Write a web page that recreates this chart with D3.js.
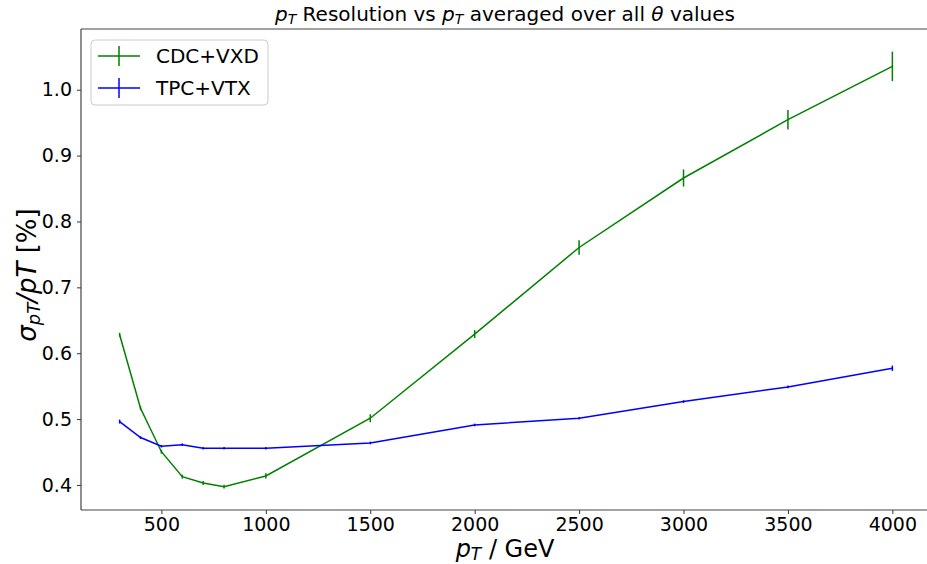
<!DOCTYPE html>
<html>
<head>
<meta charset="utf-8">
<script src="https://cdn.jsdelivr.net/npm/d3@7"></script>
<style>
  body { margin: 0; background: #fff; }
  text { font-family: "DejaVu Sans", sans-serif; fill: #000; }
</style>
</head>
<body>
<div id="chart"></div>
<script>
// values
var pt = [300, 400, 500, 600, 700, 800, 1000, 1500, 2000, 2500, 3000, 3500, 4000];
var cdcVxd    = [0.628, 0.5165, 0.4505, 0.4126, 0.403, 0.3975, 0.4137, 0.5013, 0.629, 0.7605, 0.866, 0.9545, 1.0355];
var cdcVxdErr = [0.003, 0.003, 0.003, 0.003, 0.003, 0.003, 0.004, 0.006, 0.006, 0.011, 0.013, 0.0147, 0.0223];
var tpcVtx    = [0.4962, 0.472, 0.4588, 0.4612, 0.4557, 0.4557, 0.4557, 0.4638, 0.4911, 0.5013, 0.5266, 0.5489, 0.5772];
var tpcVtxErr = [0.003, 0.002, 0.002, 0.002, 0.002, 0.002, 0.002, 0.002, 0.002, 0.002, 0.002, 0.002, 0.004];
var xTicks = [500, 1000, 1500, 2000, 2500, 3000, 3500, 4000];
var yTicks = [0.4, 0.5, 0.6, 0.7, 0.8, 0.9, 1.0];

var series = [
    {name: "CDC+VXD", color: "green", y: cdcVxd, err: cdcVxdErr},
    {name: "TPC+VTX", color: "blue",  y: tpcVtx, err: tpcVtxErr}
];

var width = 927, height = 564;
var margin = {top: 29, right: -4, bottom: 54, left: 81};

var svg = d3.select("#chart").append("svg")
    .attr("width", width)
    .attr("height", height);

var x = d3.scaleLinear().domain([115, 4185]).range([margin.left, width - margin.right]);
var y = d3.scaleLinear().domain([0.362, 1.0922]).range([height - margin.bottom, margin.top]);

// axes
var xAxis = svg.append("g")
    .attr("transform", "translate(0," + (height - margin.bottom) + ")")
    .call(d3.axisBottom(x).tickValues(xTicks).tickSize(4).tickPadding(4).tickFormat(d3.format("d")));
var yAxis = svg.append("g")
    .attr("transform", "translate(" + margin.left + ",0)")
    .call(d3.axisLeft(y).tickValues(yTicks).tickSize(4).tickPadding(5).tickFormat(d3.format(".1f")));

[xAxis, yAxis].forEach(function(a){
    a.selectAll("text").style("font-size", "19px").style("font-family", "DejaVu Sans");
    a.selectAll("line").attr("stroke", "#333").attr("stroke-width", 1);
    a.select(".domain").remove();
});

// spines (no right spine visible, the figure is cut there)
svg.append("line").attr("x1", margin.left).attr("x2", width).attr("y1", margin.top).attr("y2", margin.top)
    .attr("stroke", "#444").attr("stroke-width", 1.2);
svg.append("line").attr("x1", margin.left).attr("x2", width).attr("y1", height - margin.bottom).attr("y2", height - margin.bottom)
    .attr("stroke", "#444").attr("stroke-width", 1.2);
svg.append("line").attr("x1", margin.left).attr("x2", margin.left).attr("y1", margin.top).attr("y2", height - margin.bottom)
    .attr("stroke", "#444").attr("stroke-width", 1.2);

// lines with vertical error bars
var line = d3.line()
    .x(function(d) { return x(d.x); })
    .y(function(d) { return y(d.y); });

series.forEach(function(s) {
    var pts = pt.map(function(v, i) { return {x: v, y: s.y[i], e: s.err[i]}; });
    svg.append("path")
        .datum(pts)
        .attr("d", line)
        .attr("fill", "none")
        .attr("stroke", s.color)
        .attr("stroke-width", 1.5);
    svg.append("g").selectAll("line")
        .data(pts)
        .enter().append("line")
        .attr("x1", function(d) { return x(d.x); })
        .attr("x2", function(d) { return x(d.x); })
        .attr("y1", function(d) { return y(d.y - d.e); })
        .attr("y2", function(d) { return y(d.y + d.e); })
        .attr("stroke", s.color)
        .attr("stroke-width", 1.5);
});

// title
var title = svg.append("text")
    .attr("x", 505).attr("y", 21)
    .attr("text-anchor", "middle")
    .style("font-size", "20px");
title.append("tspan").style("font-style", "italic").text("p");
title.append("tspan").style("font-style", "italic").style("font-size", "14px").attr("dy", 3).text("T");
title.append("tspan").attr("dy", -3).text(" Resolution vs ");
title.append("tspan").style("font-style", "italic").text("p");
title.append("tspan").style("font-style", "italic").style("font-size", "14px").attr("dy", 3).text("T");
title.append("tspan").attr("dy", -3).text(" averaged over all ");
title.append("tspan").style("font-style", "italic").text("θ");
title.append("tspan").text(" values");

// x label
var xl = svg.append("text")
    .attr("x", 505).attr("y", 557)
    .attr("text-anchor", "middle")
    .style("font-size", "24px");
xl.append("tspan").style("font-style", "italic").text("p");
xl.append("tspan").style("font-style", "italic").style("font-size", "17px").attr("dy", 3).text("T");
xl.append("tspan").attr("dy", -3).text(" / GeV");

// y label
var yl = svg.append("text")
    .attr("transform", "translate(36,275) rotate(-90)")
    .attr("text-anchor", "middle")
    .style("font-size", "26px");
yl.append("tspan").style("font-style", "italic").text("σ");
yl.append("tspan").style("font-style", "italic").style("font-size", "18px").attr("dy", 4).text("pT");
yl.append("tspan").style("font-style", "italic").attr("dy", -4).text("/pT");
yl.append("tspan").text(" [%]");

// legend
var legend = svg.append("g");
legend.append("rect")
    .attr("x", 91).attr("y", 40).attr("width", 177).attr("height", 65)
    .attr("rx", 4)
    .attr("fill", "#fff").attr("fill-opacity", 0.8)
    .attr("stroke", "#ccc").attr("stroke-width", 1);
series.forEach(function(s, i) {
    var cy = 56 + i * 32;
    legend.append("line").attr("x1", 98).attr("x2", 140).attr("y1", cy).attr("y2", cy)
        .attr("stroke", s.color).attr("stroke-width", 1.5);
    legend.append("line").attr("x1", 119).attr("x2", 119).attr("y1", cy - 10).attr("y2", cy + 10)
        .attr("stroke", s.color).attr("stroke-width", 1.5);
    legend.append("text").attr("x", 156).attr("y", cy + 7)
        .style("font-size", "20px")
        .text(s.name);
});
</script>
</body>
</html>
